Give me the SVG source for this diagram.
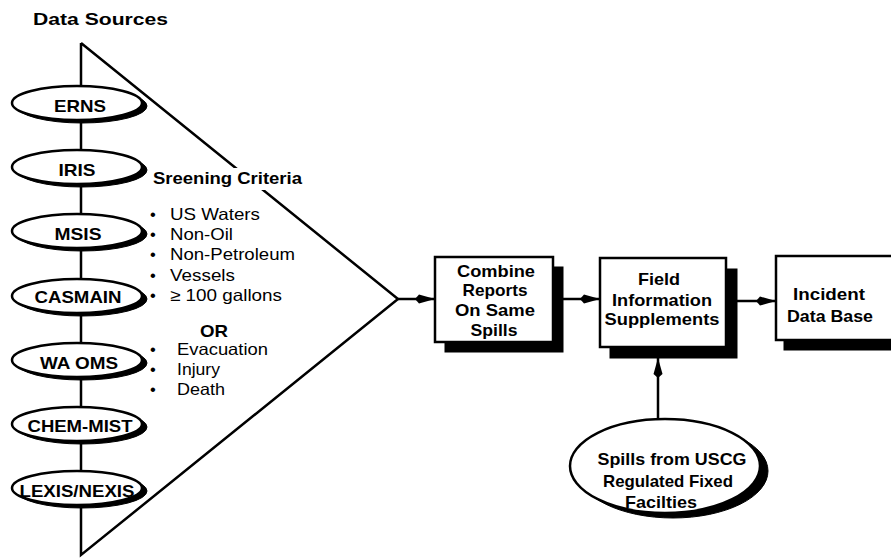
<svg xmlns="http://www.w3.org/2000/svg" width="891" height="560" viewBox="0 0 891 560">
<style>
text{font-family:"Liberation Sans",Arial,sans-serif;fill:#000}
.b{font-weight:bold;font-size:17px}
.r{font-size:16.5px}
.c{text-anchor:middle}
.ol{fill:#fff;stroke:#000;stroke-width:2.5}
.sh{fill:#000;stroke:#000;stroke-width:1}
.ln{fill:none;stroke:#000;stroke-width:2.5}
</style>
<defs>
<marker id="ah" markerUnits="userSpaceOnUse" markerWidth="22" markerHeight="14" refX="20" refY="7" orient="auto">
<path d="M0,7 L4,2.5 L20,7 L4,11.5 Z" fill="#000"/>
</marker>
</defs>
<rect width="891" height="560" fill="#fff"/>
<text class="b" x="33" y="25" textLength="135" lengthAdjust="spacingAndGlyphs">Data Sources</text>

<g id="connectors">
<polyline class="ln" points="81,43 398,299 81,555 81,43"/>
<line class="ln" x1="398" y1="299" x2="435" y2="299" marker-end="url(#ah)"/>
<line class="ln" x1="553" y1="299" x2="600" y2="299" marker-end="url(#ah)"/>
<line class="ln" x1="726" y1="301" x2="776" y2="301" marker-end="url(#ah)"/>
<line class="ln" x1="658" y1="419" x2="658" y2="358" marker-end="url(#ah)"/>
</g>

<g id="criteria">
<rect x="150" y="168" width="156" height="22" fill="#fff"/>
<text class="b" x="153" y="184" textLength="149" lengthAdjust="spacingAndGlyphs">Sreening Criteria</text>
<text class="r" x="150" y="220">•</text>
<text class="r" x="170" y="220" textLength="90" lengthAdjust="spacingAndGlyphs">US Waters</text>
<text class="r" x="150" y="240">•</text>
<text class="r" x="170" y="240" textLength="63" lengthAdjust="spacingAndGlyphs">Non-Oil</text>
<text class="r" x="150" y="260">•</text>
<text class="r" x="170" y="260" textLength="125" lengthAdjust="spacingAndGlyphs">Non-Petroleum</text>
<text class="r" x="150" y="281">•</text>
<text class="r" x="170" y="281" textLength="65" lengthAdjust="spacingAndGlyphs">Vessels</text>
<text class="r" x="150" y="301">•</text>
<text class="r" x="170" y="301" textLength="112" lengthAdjust="spacingAndGlyphs">≥ 100 gallons</text>
<text class="b c" x="214" y="337" textLength="28" lengthAdjust="spacingAndGlyphs">OR</text>
<text class="r" x="150" y="355">•</text>
<text class="r" x="177" y="355" textLength="91" lengthAdjust="spacingAndGlyphs">Evacuation</text>
<text class="r" x="150" y="375">•</text>
<text class="r" x="177" y="375" textLength="43" lengthAdjust="spacingAndGlyphs">Injury</text>
<text class="r" x="150" y="395">•</text>
<text class="r" x="177" y="395" textLength="48" lengthAdjust="spacingAndGlyphs">Death</text>
</g>

<g id="ERNS">
<ellipse class="sh" cx="82" cy="106" rx="65" ry="17"/>
<ellipse class="ol" cx="77" cy="103" rx="65" ry="17"/>
<text class="b c" x="80" y="112" textLength="52" lengthAdjust="spacingAndGlyphs">ERNS</text>
</g>
<g id="IRIS">
<ellipse class="sh" cx="82" cy="170" rx="65" ry="17"/>
<ellipse class="ol" cx="77" cy="167" rx="65" ry="17"/>
<text class="b c" x="77" y="176" textLength="37" lengthAdjust="spacingAndGlyphs">IRIS</text>
</g>
<g id="MSIS">
<ellipse class="sh" cx="82" cy="234" rx="65" ry="17"/>
<ellipse class="ol" cx="77" cy="231" rx="65" ry="17"/>
<text class="b c" x="78" y="240" textLength="47" lengthAdjust="spacingAndGlyphs">MSIS</text>
</g>
<g id="CASMAIN">
<ellipse class="sh" cx="82" cy="299" rx="65" ry="17"/>
<ellipse class="ol" cx="77" cy="296" rx="65" ry="17"/>
<text class="b c" x="78" y="303" textLength="87" lengthAdjust="spacingAndGlyphs">CASMAIN</text>
</g>
<g id="WAOMS">
<ellipse class="sh" cx="82" cy="363" rx="65" ry="17"/>
<ellipse class="ol" cx="77" cy="360" rx="65" ry="17"/>
<text class="b c" x="79" y="369" textLength="78" lengthAdjust="spacingAndGlyphs">WA OMS</text>
</g>
<g id="CHEMMIST">
<ellipse class="sh" cx="82" cy="427" rx="65" ry="17"/>
<ellipse class="ol" cx="77" cy="424" rx="65" ry="17"/>
<text class="b c" x="80" y="432" textLength="105" lengthAdjust="spacingAndGlyphs">CHEM-MIST</text>
</g>
<g id="LEXISNEXIS">
<ellipse class="sh" cx="82" cy="491" rx="65" ry="17"/>
<ellipse class="ol" cx="77" cy="488" rx="65" ry="17"/>
<text class="b c" x="77" y="497" textLength="115" lengthAdjust="spacingAndGlyphs">LEXIS/NEXIS</text>
</g>

<g id="combine">
<rect class="sh" x="445" y="267" width="118" height="85"/>
<rect class="ol" x="435" y="257" width="118" height="85"/>
<text class="b c" x="496" y="277" textLength="78" lengthAdjust="spacingAndGlyphs">Combine</text>
<text class="b c" x="495" y="296" textLength="65" lengthAdjust="spacingAndGlyphs">Reports</text>
<text class="b c" x="495" y="316" textLength="80" lengthAdjust="spacingAndGlyphs">On Same</text>
<text class="b c" x="494" y="336" textLength="47" lengthAdjust="spacingAndGlyphs">Spills</text>
</g>
<g id="field">
<rect class="sh" x="610" y="269" width="127" height="89"/>
<rect class="ol" x="600" y="258" width="126" height="89"/>
<text class="b c" x="659" y="285" textLength="42" lengthAdjust="spacingAndGlyphs">Field</text>
<text class="b c" x="662" y="306" textLength="100" lengthAdjust="spacingAndGlyphs">Information</text>
<text class="b c" x="662" y="325" textLength="115" lengthAdjust="spacingAndGlyphs">Supplements</text>
</g>
<g id="incident">
<rect class="sh" x="784" y="266" width="130" height="84"/>
<rect class="ol" x="776" y="256" width="130" height="84"/>
<text class="b" x="793" y="300" textLength="72" lengthAdjust="spacingAndGlyphs">Incident</text>
<text class="b" x="787" y="322" textLength="86" lengthAdjust="spacingAndGlyphs">Data Base</text>
</g>
<g id="spills">
<ellipse class="sh" cx="673" cy="471" rx="95" ry="47"/>
<ellipse class="ol" cx="665" cy="466" rx="95" ry="47"/>
<text class="b c" x="672" y="465" textLength="149" lengthAdjust="spacingAndGlyphs">Spills from USCG</text>
<text class="b c" x="668" y="487" textLength="130" lengthAdjust="spacingAndGlyphs">Regulated Fixed</text>
<text class="b c" x="661" y="508" textLength="72" lengthAdjust="spacingAndGlyphs">Facilties</text>
</g>
</svg>
